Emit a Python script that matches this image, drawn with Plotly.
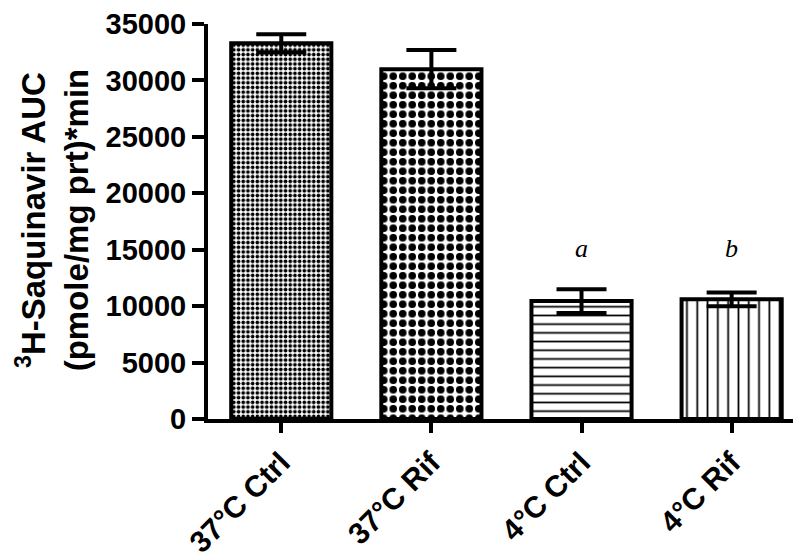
import plotly.graph_objects as go

categories = ["37°C Ctrl", "37°C Rif", "4°C Ctrl", "4°C Rif"]
auc_mean = [33300, 31000, 10450, 10600]
auc_sem = [800, 1700, 1050, 600]
sig_labels = ["", "", "a", "b"]
y_ticks = [0, 5000, 10000, 15000, 20000, 25000, 30000, 35000]

FONT = "Arial, 'Liberation Sans', sans-serif"

pattern_shapes = [".", ".", "-", "|"]
pattern_sizes = [4.7, 9.5, 8.7, 10.3]
pattern_solidity = [0.5, 0.5, 0.2, 0.17]

fig = go.Figure()
fig.add_trace(go.Bar(
    x=list(range(len(categories))),
    y=auc_mean,
    width=0.667,
    marker=dict(
        color="white",
        line=dict(color="black", width=4),
        pattern=dict(shape=pattern_shapes, size=pattern_sizes,
                     solidity=pattern_solidity, fgcolor="black",
                     bgcolor="white", fillmode="replace"),
    ),
    error_y=dict(type="data", array=auc_sem, visible=True,
                 color="black", thickness=4, width=25),
    showlegend=False,
))

for i, lab in enumerate(sig_labels):
    if lab:
        fig.add_annotation(x=i, y=15100, xref="x", yref="y", text="<i>" + lab + "</i>",
                           showarrow=False,
                           font=dict(family="'Liberation Serif', 'Times New Roman', serif",
                                     size=26, color="black"),
                           xanchor="center", yanchor="middle")

fig.add_annotation(
    text="<sup>3</sup>H-Saquinavir AUC<br>(pmole/mg prt)*min",
    xref="paper", yref="paper", x=(46 - 200.5) / 592.5, y=0.504,
    xanchor="center", yanchor="middle", textangle=-90, showarrow=False,
    font=dict(family=FONT, size=33, color="black", weight="bold"),
)

fig.update_layout(
    width=793, height=551,
    margin=dict(l=200, r=0, t=14, b=138, pad=0),
    plot_bgcolor="white", paper_bgcolor="white",
    font=dict(family=FONT, color="black"),
    bargap=0.333,
)
fig.update_xaxes(
    range=[-0.488, 3.462],
    tickmode="array", tickvals=list(range(len(categories))), ticktext=categories,
    tickangle=-45,
    showline=True, linecolor="black", linewidth=4,
    ticks="outside", ticklen=10, tickwidth=4, tickcolor="black",
    showgrid=False, zeroline=False, ticklabeloverflow="allow",
    tickfont=dict(family=FONT, size=30, color="black", weight="bold"),
)
fig.update_yaxes(
    range=[0, 35000],
    tickmode="array", tickvals=y_ticks, ticktext=[str(v) for v in y_ticks],
    showline=True, linecolor="black", linewidth=4,
    ticks="outside", ticklen=12, tickwidth=4, tickcolor="black",
    showgrid=False, zeroline=False, ticklabeloverflow="allow",
    tickfont=dict(family=FONT, size=29, color="black", weight="bold"),
)

fig.write_html("out.html")
